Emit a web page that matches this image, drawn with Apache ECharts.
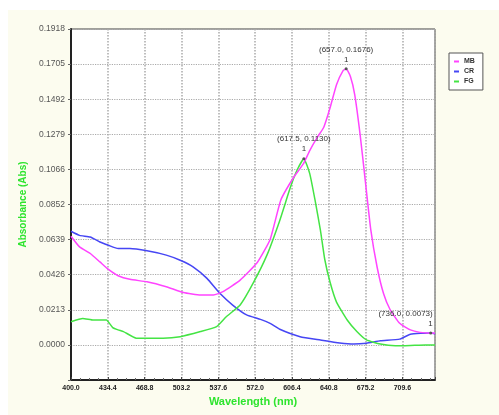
<!DOCTYPE html>
<html>
<head>
<meta charset="utf-8">
<script src="https://cdn.jsdelivr.net/npm/echarts@6/dist/echarts.min.js"></script>
<style>
html, body { margin: 0; padding: 0; background: #ffffff; }
#main { width: 499px; height: 415px; }
</style>
</head>
<body>
<div id="main"></div>
<script>
// wavelengths (nm) and absorbance, one pair of arrays per dye
var wlMB  = [400, 408, 418, 427, 435, 444, 455, 471, 489, 505, 521, 533, 542, 558, 574, 586, 596, 608, 617, 623, 630, 636, 642, 648, 654, 657, 661, 665, 670, 675, 680, 686, 692, 698, 707, 717, 726, 736, 740];
var absMB = [0.0660, 0.0595, 0.0555, 0.0504, 0.0458, 0.0420, 0.0398, 0.0383, 0.0353, 0.0318, 0.0303, 0.0303, 0.0323, 0.0393, 0.0500, 0.0640, 0.0880, 0.1018, 0.1099, 0.1180, 0.1260, 0.1320, 0.1440, 0.1580, 0.1664, 0.1676, 0.1630, 0.1520, 0.1280, 0.0990, 0.0700, 0.0470, 0.0310, 0.0215, 0.0131, 0.0091, 0.0076, 0.0071, 0.0072];

var wlCR  = [400, 408, 418, 427, 435, 444, 455, 471, 489, 502, 514, 527, 539, 551, 564, 577, 586, 595, 614, 633, 651, 664, 676, 689, 707, 717, 736, 740];
var absCR = [0.0690, 0.0665, 0.0655, 0.0625, 0.0605, 0.0585, 0.0585, 0.0571, 0.0545, 0.0514, 0.0474, 0.0404, 0.0313, 0.0242, 0.0182, 0.0155, 0.0131, 0.0095, 0.0050, 0.0030, 0.0012, 0.0005, 0.0010, 0.0025, 0.0035, 0.0065, 0.0073, 0.0068];

var wlFG  = [400, 411, 421, 433, 439, 444, 449, 461, 486, 502, 521, 536, 545, 558, 570, 583, 595, 605, 611, 617.5, 623, 628, 633, 637, 642, 648, 658, 667, 676, 689, 703, 717, 731, 740];
var absFG = [0.0141, 0.0161, 0.0151, 0.0151, 0.0105, 0.0091, 0.0081, 0.0041, 0.0041, 0.0050, 0.0081, 0.0111, 0.0171, 0.0242, 0.0373, 0.0545, 0.0756, 0.0958, 0.1059, 0.1130, 0.1040, 0.0877, 0.0696, 0.0520, 0.0380, 0.0260, 0.0151, 0.0081, 0.0030, 0.0005, -0.0005, -0.0003, 0.0000, 0.0000];

var peakMB = [657.0, 0.1676];
var peakFG = [617.5, 0.1130];
var peakCR = [736.0, 0.0073];

var yStep = 0.1918 / 9;

function pairs(xs, ys) {
	var out = [];
	for (var i = 0; i < xs.length; i++) out.push([xs[i], ys[i]]);
	return out;
}

function peakLabel(p) {
	return '(' + p[0].toFixed(1) + ', ' + p[1].toFixed(4) + ')\n1';
}

var myChart = echarts.init(document.getElementById('main'));

var markLabel = {
	show: true,
	position: 'top',
	distance: 3,
	color: '#333',
	fontSize: 8,
	lineHeight: 10,
	fontFamily: 'Liberation Sans'
};

var option = {
	animation: false,
	graphic: [{
		type: 'rect',
		left: 8, top: 10,
		shape: { width: 491, height: 405 },
		style: { fill: '#fcfcef' },
		z: -10
	}],
	legend: {
		orient: 'vertical',
		left: 449, top: 53,
		padding: [5, 8, 5, 5],
		itemWidth: 5, itemHeight: 2, itemGap: 3,
		borderColor: '#555', borderWidth: 1,
		backgroundColor: '#ffffff',
		icon: 'rect',
		textStyle: { fontSize: 7, fontWeight: 'bold', color: '#333', fontFamily: 'Liberation Sans' },
		data: ['MB', 'CR', 'FG']
	},
	grid: {
		left: 71, top: 29, right: 64, bottom: 35,
		show: true,
		backgroundColor: '#ffffff',
		borderColor: '#444',
		borderWidth: 1
	},
	xAxis: {
		type: 'value',
		min: 400, max: 740, interval: 34.4,
		name: 'Wavelength (nm)',
		nameLocation: 'middle',
		nameGap: 16,
		nameTextStyle: { color: '#2ee42e', fontSize: 11, fontWeight: 'bold', fontFamily: 'Liberation Sans' },
		axisLine: { onZero: false, lineStyle: { color: '#222', width: 2 } },
		axisTick: { inside: true, length: 3, lineStyle: { color: '#444' } },
		minorTick: { show: true, splitNumber: 4, length: 2, lineStyle: { color: '#666' } },
		axisLabel: {
			showMaxLabel: false,
			margin: 5,
			fontSize: 7, fontWeight: 'bold', color: '#222', fontFamily: 'Liberation Sans',
			formatter: function (v) { return v.toFixed(1); }
		},
		splitLine: { show: true, lineStyle: { color: '#aaa', type: 'dotted', width: 1.5 } }
	},
	yAxis: {
		type: 'value',
		min: -yStep, max: 0.1918, interval: yStep,
		name: 'Absorbance (Abs)',
		nameLocation: 'middle',
		nameGap: 29,
		nameTextStyle: { color: '#2ee42e', fontSize: 10, fontWeight: 'bold', fontFamily: 'Liberation Sans' },
		axisLine: { show: true, onZero: false, lineStyle: { color: '#222', width: 2 } },
		axisTick: { show: true, length: 3, lineStyle: { color: '#666' } },
		axisLabel: {
			margin: 6,
			fontSize: 8.5, color: '#555', fontFamily: 'Liberation Sans',
			formatter: function (v) { return v < -0.001 ? '' : Math.abs(v).toFixed(4); }
		},
		splitLine: { show: true, lineStyle: { color: '#aaa', type: 'dotted', width: 1.2 } }
	},
	series: [{
		name: 'MB',
		type: 'line',
		data: pairs(wlMB, absMB),
		showSymbol: false,
		smooth: 0.15,
		color: '#ff44ff',
		lineStyle: { width: 1.5 },
		z: 3,
		markPoint: {
			symbol: 'circle', symbolSize: 3,
			itemStyle: { color: '#555' },
			label: markLabel,
			data: [{ coord: peakMB, label: { formatter: peakLabel(peakMB) } }]
		}
	}, {
		name: 'CR',
		type: 'line',
		data: pairs(wlCR, absCR),
		showSymbol: false,
		smooth: 0.15,
		color: '#4646f4',
		lineStyle: { width: 1.5 },
		z: 2,
		markPoint: {
			symbol: 'circle', symbolSize: 3,
			itemStyle: { color: '#555' },
			label: markLabel,
			data: [{
				coord: peakCR,
				label: {
					formatter: '{c|(' + peakCR[0].toFixed(1) + ', ' + peakCR[1].toFixed(4) + ')}\n{c|1}',
					align: 'right',
					offset: [2, 0],
					rich: { c: { align: 'right', fontSize: 8, color: '#333', lineHeight: 10 } }
				}
			}]
		}
	}, {
		name: 'FG',
		type: 'line',
		data: pairs(wlFG, absFG),
		showSymbol: false,
		smooth: 0.15,
		color: '#44e444',
		lineStyle: { width: 1.5 },
		z: 2,
		markPoint: {
			symbol: 'circle', symbolSize: 3,
			itemStyle: { color: '#555' },
			label: markLabel,
			data: [{ coord: peakFG, label: { formatter: peakLabel(peakFG) } }]
		}
	}]
};

myChart.setOption(option);
</script>
</body>
</html>
